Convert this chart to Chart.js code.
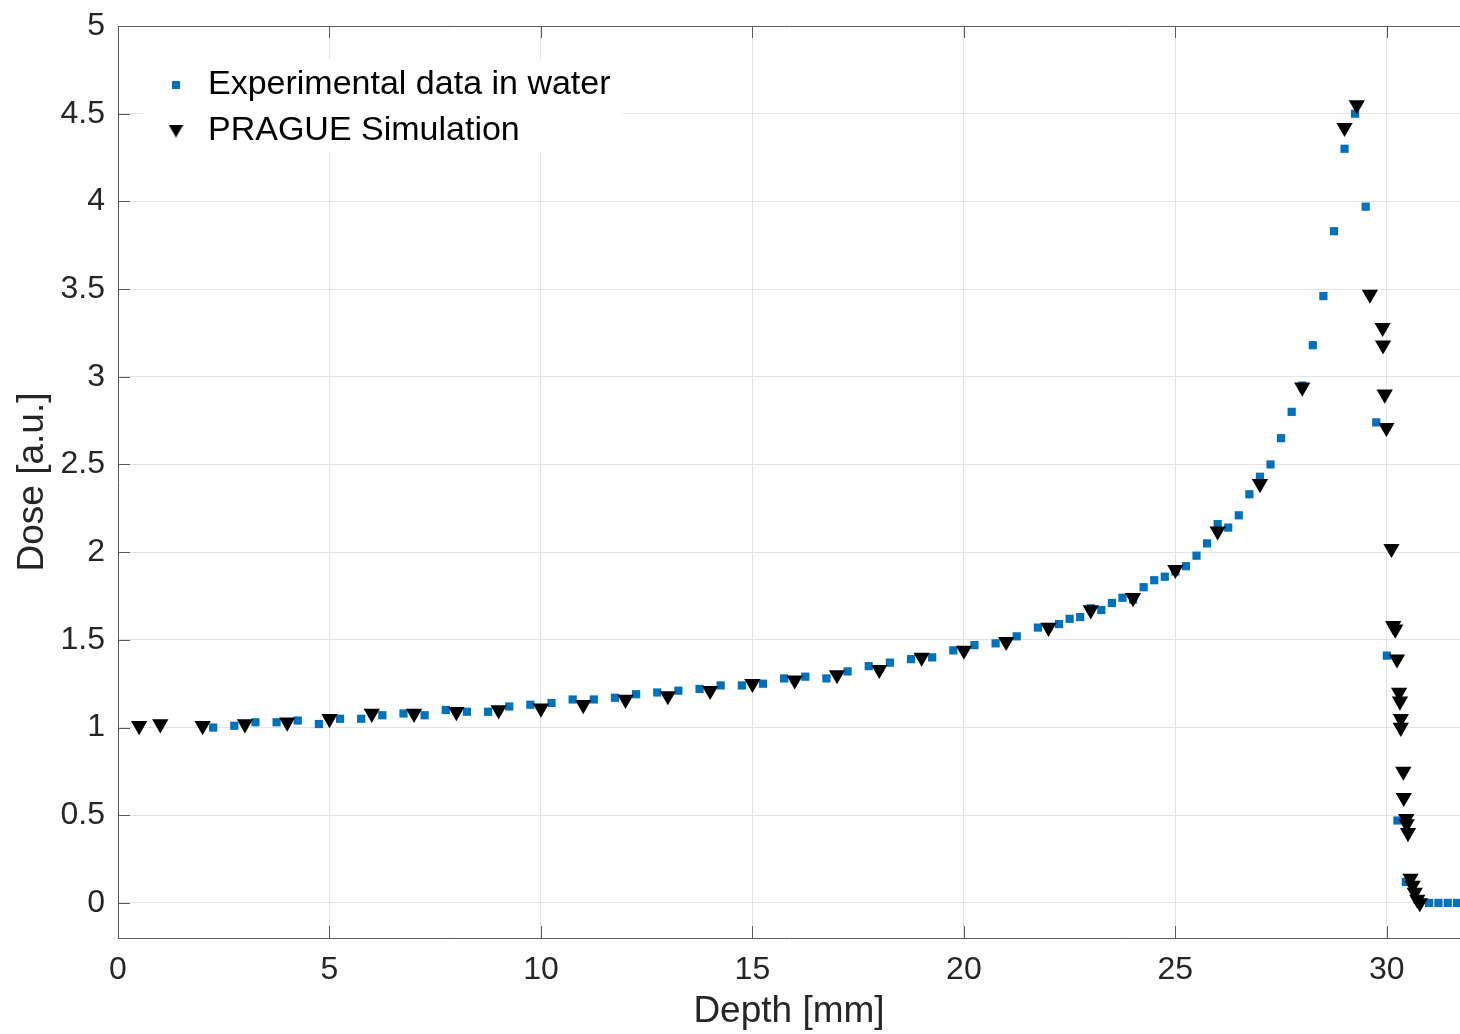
<!DOCTYPE html>
<html lang="en">
<head>
    <meta charset="UTF-8">
    <title>Dose vs Depth</title>
    <script src="https://cdn.jsdelivr.net/npm/chart.js"></script>
    <style>
        body {
            margin: 0;
            background: #fff;
        }
        canvas {
            display: block;
        }
    </style>
</head>
<body>
    <canvas id="doseChart" width="1460" height="1034"></canvas>

    <script>
        // Experimental data in water (blue squares)
        const expDepth = [2.25, 2.75, 3.25, 3.75, 4.25, 4.75, 5.25, 5.75, 6.25, 6.75, 7.25, 7.75, 8.25, 8.75, 9.25, 9.75,
            10.25, 10.75, 11.25, 11.75, 12.25, 12.75, 13.25, 13.75, 14.25, 14.75, 15.25, 15.75, 16.25, 16.75, 17.25, 17.75,
            18.25, 18.75, 19.25, 19.75, 20.25, 20.75, 21.25, 21.75, 22.25, 22.5, 22.75, 23, 23.25, 23.5, 23.75, 24,
            24.25, 24.5, 24.75, 25, 25.25, 25.5, 25.75, 26, 26.25, 26.5, 26.75, 27, 27.25, 27.5, 27.75, 28,
            28.25, 28.5, 28.75, 29, 29.25, 29.5, 29.75, 30, 30.25, 30.45, 30.72, 31.0, 31.22, 31.44, 31.66];
        const expDose = [1.00, 1.01, 1.03, 1.03, 1.04, 1.02, 1.05, 1.05, 1.07, 1.08, 1.07, 1.10, 1.09, 1.09, 1.12, 1.13,
            1.14, 1.16, 1.16, 1.17, 1.19, 1.20, 1.21, 1.22, 1.24, 1.24, 1.25, 1.28, 1.29, 1.28, 1.32, 1.35,
            1.37, 1.39, 1.40, 1.44, 1.47, 1.48, 1.52, 1.57, 1.59, 1.62, 1.63, 1.68, 1.67, 1.71, 1.74, 1.73,
            1.80, 1.84, 1.86, 1.89, 1.92, 1.98, 2.05, 2.16, 2.14, 2.21, 2.33, 2.43, 2.50, 2.65, 2.80, 2.95,
            3.18, 3.46, 3.83, 4.30, 4.50, 3.97, 2.74, 1.41, 0.47, 0.12, 0.02, 0.0, 0.0, 0.0, 0.0];

        // PRAGUE simulation (black triangles)
        const simDepth = [0.5, 1, 2, 3, 4, 5, 6, 7, 8, 9, 10, 11, 12, 13, 14, 15, 16, 17, 18, 19, 20,
            21, 22, 23, 24, 25, 26, 27, 28, 29, 29.29, 29.6, 29.9, 29.91, 29.95, 29.99,
            30.11, 30.15, 30.2, 30.24, 30.29, 30.31, 30.33, 30.33, 30.39, 30.4, 30.46, 30.47, 30.5,
            30.56, 30.61, 30.66, 30.72, 30.78];
        const simDose = [1.01, 1.02, 1.01, 1.02, 1.03, 1.05, 1.08, 1.08, 1.09, 1.10, 1.11, 1.13, 1.16, 1.18, 1.21, 1.25, 1.27, 1.30, 1.33, 1.40, 1.44,
            1.49, 1.57, 1.67, 1.74, 1.90, 2.12, 2.39, 2.94, 4.42, 4.55, 3.47, 3.28, 3.18, 2.90, 2.71,
            2.02, 1.58, 1.56, 1.39, 1.20, 1.15, 1.05, 1.00, 0.75, 0.60, 0.48, 0.45, 0.40,
            0.14, 0.10, 0.06, 0.02, 0.0];

        const xTicks = [0, 5, 10, 15, 20, 25, 30];
        const yTicks = [0, 0.5, 1, 1.5, 2, 2.5, 3, 3.5, 4, 4.5, 5];

        const fontFamily = "'Liberation Sans', Arial, sans-serif";
        const axisGray = '#5a5a5a';
        const gridGray = '#e3e3e3';
        const blue = '#0072BD';

        function toPoints(xs, ys) {
            return xs.map((x, i) => ({ x: x, y: ys[i] }));
        }

        function setTicks(values) {
            return function (scale) {
                scale.ticks = values.map(v => ({ value: v }));
            };
        }

        // small marker images for the legend (square is smaller than the triangle)
        function legendMarker(kind) {
            const c = document.createElement('canvas');
            if (kind === 'rect') {
                c.width = 8; c.height = 8;
                const g = c.getContext('2d');
                g.fillStyle = blue;
                g.fillRect(0, 0, 8, 8);
            } else {
                c.width = 15; c.height = 13;
                const g = c.getContext('2d');
                g.fillStyle = '#000';
                g.beginPath();
                g.moveTo(0, 0); g.lineTo(15, 0); g.lineTo(7.5, 13);
                g.closePath();
                g.fill();
            }
            return c;
        }

        // legend goes inside the plot, top-left, on a white box
        const legendInside = {
            id: 'legendInside',
            afterLayout(chart) {
                const lg = chart.legend;
                const ca = chart.chartArea;
                lg.left = ca.left + 31;
                lg.top = ca.top + 30;
                lg.width = 500;
                lg.height = 140;
                lg.right = lg.left + lg.width;
                lg.bottom = lg.top + lg.height;
                if (!lg._wrapped) {
                    const origDraw = lg.draw;
                    lg.draw = function () {
                        const c = this.ctx;
                        c.save();
                        c.fillStyle = '#ffffff';
                        c.fillRect(this.left - 5, this.top + 3, 479, 93);
                        c.restore();
                        origDraw.apply(this, arguments);
                    };
                    lg._wrapped = true;
                }
            }
        };

        // MATLAB style tick marks pointing into the axes
        const innerTicks = {
            id: 'innerTicks',
            beforeDatasetsDraw(chart) {
                const { ctx, chartArea: ca, scales } = chart;
                const len = 12;
                ctx.save();
                ctx.strokeStyle = axisGray;
                ctx.lineWidth = 1;
                ctx.beginPath();
                scales.x.ticks.forEach(t => {
                    const px = Math.round(scales.x.getPixelForValue(t.value)) + 0.5;
                    ctx.moveTo(px, ca.bottom);
                    ctx.lineTo(px, ca.bottom - len);
                    ctx.moveTo(px, ca.top);
                    ctx.lineTo(px, ca.top + len);
                });
                scales.y.ticks.forEach(t => {
                    const py = Math.round(scales.y.getPixelForValue(t.value)) + 0.5;
                    ctx.moveTo(ca.left, py);
                    ctx.lineTo(ca.left + len, py);
                });
                ctx.stroke();
                ctx.restore();
            }
        };

        const ctx = document.getElementById('doseChart').getContext('2d');

        new Chart(ctx, {
            type: 'scatter',
            data: {
                datasets: [{
                    label: 'Experimental data in water',
                    data: toPoints(expDepth, expDose),
                    pointStyle: 'rect',
                    pointRadius: 5.8,
                    backgroundColor: blue,
                    borderWidth: 0,
                    order: 2
                }, {
                    label: 'PRAGUE Simulation',
                    data: toPoints(simDepth, simDose),
                    pointStyle: 'triangle',
                    rotation: 180,
                    pointRadius: 9.4,
                    backgroundColor: '#000000',
                    borderWidth: 0,
                    order: 1
                }]
            },
            options: {
                responsive: false,
                animation: false,
                devicePixelRatio: 1,
                layout: {
                    autoPadding: false,
                    padding: { top: 26, right: 0, bottom: 0, left: 0 }
                },
                plugins: {
                    legend: {
                        position: 'chartArea',
                        align: 'start',
                        labels: {
                            usePointStyle: true,
                            boxWidth: 30,
                            boxHeight: 10,
                            padding: 12,
                            color: '#000000',
                            font: { family: fontFamily, size: 34 },
                            sort: (a, b) => a.datasetIndex - b.datasetIndex,
                            generateLabels(chart) {
                                const items = Chart.defaults.plugins.legend.labels.generateLabels(chart);
                                items.forEach(it => {
                                    it.pointStyle = legendMarker(it.datasetIndex === 0 ? 'rect' : 'triangle');
                                    it.rotation = 0;
                                });
                                return items;
                            }
                        }
                    },
                    tooltip: { enabled: false }
                },
                scales: {
                    x: {
                        type: 'linear',
                        position: 'bottom',
                        min: 0,
                        max: 31.73,
                        afterBuildTicks: setTicks(xTicks),
                        afterFit(scale) {
                            scale.height = 96;
                            scale.paddingLeft = 0;
                            scale.paddingRight = 0;
                        },
                        ticks: {
                            color: '#262626',
                            padding: 13,
                            font: { family: fontFamily, size: 32 },
                            callback: v => String(v)
                        },
                        grid: {
                            color: gridGray,
                            drawTicks: false
                        },
                        border: { color: axisGray, width: 1 },
                        title: {
                            display: true,
                            text: 'Depth [mm]',
                            color: '#262626',
                            font: { family: fontFamily, size: 37 },
                            padding: { top: 0, bottom: 0 }
                        }
                    },
                    y: {
                        type: 'linear',
                        position: 'left',
                        min: -0.2,
                        max: 5,
                        afterBuildTicks: setTicks(yTicks),
                        afterFit(scale) {
                            scale.width = 118;
                            scale.paddingTop = 0;
                            scale.paddingBottom = 0;
                        },
                        ticks: {
                            color: '#262626',
                            padding: 13,
                            font: { family: fontFamily, size: 32 },
                            callback: v => String(v)
                        },
                        grid: {
                            // top edge of the box is the y = 5 line
                            color: c => (c.tick && c.tick.value === 5 ? axisGray : gridGray),
                            drawTicks: false
                        },
                        border: { color: axisGray, width: 1 },
                        title: {
                            display: true,
                            text: 'Dose [a.u.]',
                            color: '#262626',
                            font: { family: fontFamily, size: 37 },
                            padding: { top: 11, bottom: 4 }
                        }
                    }
                }
            },
            plugins: [legendInside, innerTicks]
        });
    </script>
</body>
</html>
